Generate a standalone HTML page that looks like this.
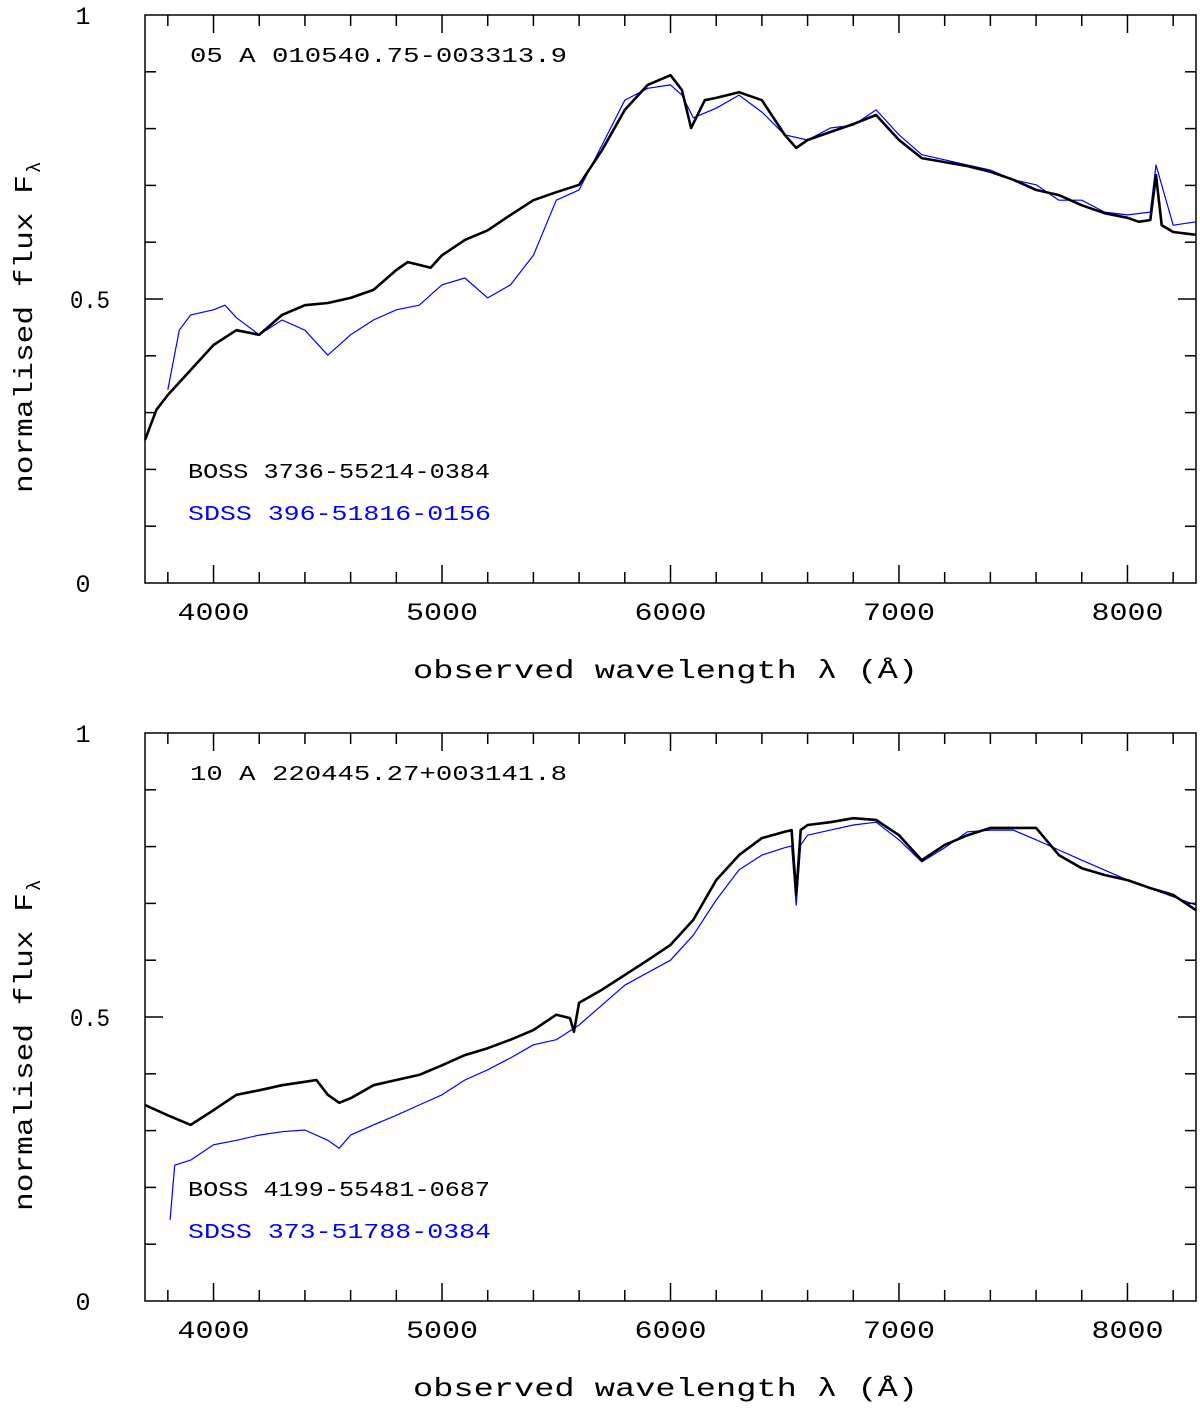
<!DOCTYPE html>
<html><head><meta charset="utf-8"><style>
html,body{margin:0;padding:0;background:#fff}
svg text{font-family:"Liberation Mono","DejaVu Sans Mono",monospace}
</style></head><body>
<svg id="chart" width="1200" height="1405" viewBox="0 0 1200 1405" xmlns="http://www.w3.org/2000/svg"></svg>
<script>
const topBossWl=[3700,3750,3800,3900,4000,4100,4200,4300,4400,4500,4600,4700,4800,4850,4900,4950,5000,5100,5200,5300,5400,5500,5600,5700,5800,5900,6000,6050,6090,6150,6200,6300,6400,6500,6550,6600,6700,6800,6900,7000,7100,7200,7300,7400,7500,7600,7700,7800,7900,8000,8050,8100,8125,8150,8200,8300];
const topBossFlux=[.252,.305,.331,.375,.419,.445,.437,.472,.489,.493,.502,.516,.551,.565,.560,.555,.577,.604,.621,.648,.674,.688,.701,.762,.833,.877,.894,.868,.801,.850,.854,.864,.850,.789,.766,.780,.794,.808,.824,.780,.748,.741,.734,.724,.710,.692,.683,.665,.651,.643,.636,.639,.718,.630,.618,.613];
const topSdssWl=[3800,3850,3900,4000,4050,4100,4200,4300,4400,4500,4600,4700,4800,4900,5000,5100,5200,5300,5400,5500,5600,5700,5800,5900,6000,6050,6100,6200,6300,6400,6500,6600,6700,6800,6900,7000,7100,7200,7300,7400,7500,7600,7700,7800,7900,8000,8100,8125,8200,8300];
const topSdssFlux=[.340,.445,.472,.481,.489,.467,.437,.463,.445,.401,.437,.463,.481,.489,.525,.537,.502,.525,.577,.674,.692,.771,.850,.871,.877,.859,.819,.836,.859,.829,.789,.780,.801,.806,.833,.789,.754,.745,.736,.727,.710,.701,.674,.674,.653,.648,.653,.736,.630,.636];
const botBossWl=[3700,3800,3900,4000,4100,4200,4300,4400,4450,4500,4550,4600,4700,4800,4900,5000,5100,5200,5300,5400,5500,5560,5577,5600,5700,5800,5900,6000,6100,6200,6300,6400,6500,6530,6550,6570,6600,6700,6800,6900,7000,7100,7200,7300,7400,7500,7600,7700,7800,7900,8000,8100,8200,8300];
const botBossFlux=[.345,.327,.310,.336,.363,.371,.380,.386,.389,.363,.349,.357,.380,.389,.398,.415,.433,.445,.460,.477,.504,.498,.474,.525,.548,.574,.600,.627,.671,.741,.785,.815,.826,.829,.715,.829,.838,.843,.850,.847,.820,.776,.803,.820,.833,.833,.833,.785,.762,.750,.741,.727,.715,.688];
const botSdssWl=[3810,3830,3900,4000,4100,4200,4300,4400,4500,4550,4600,4700,4800,4900,5000,5100,5200,5300,5400,5500,5600,5700,5800,6000,6100,6200,6300,6400,6500,6530,6550,6570,6600,6700,6800,6900,7000,7100,7200,7300,7400,7500,7600,7700,7800,8000,8300];
const botSdssFlux=[.143,.239,.248,.275,.283,.292,.298,.301,.283,.269,.292,.310,.327,.345,.363,.389,.407,.428,.451,.460,.486,.521,.556,.600,.644,.706,.759,.785,.798,.801,.697,.803,.820,.829,.838,.843,.812,.773,.798,.826,.829,.829,.812,.794,.776,.741,.697];
const xTickLabels=["4000","5000","6000","7000","8000"];
const yTickLabels=["0","0.5","1"];

const NS="http://www.w3.org/2000/svg";
const svg=document.getElementById('chart');
const X0=145,X1=1196,WMIN=3700,WMAX=8300;
function xs(w){return X0+(w-WMIN)/(WMAX-WMIN)*(X1-X0);}
function mk(tag,attrs,parent){const e=document.createElementNS(NS,tag);for(const k in attrs)e.setAttribute(k,attrs[k]);(parent||svg).appendChild(e);return e;}
function txt(s,x,y,size,len,parent,color,anchor){const t=mk('text',{x:x,y:y,'font-size':size,fill:color||'#000','text-anchor':anchor||'start'},parent);if(len){t.setAttribute('textLength',len);t.setAttribute('lengthAdjust','spacingAndGlyphs');}t.textContent=s;return t;}

function panel(name,top,title,bossLbl,sdssLbl,bWl,bF,sWl,sF,legY){
  const bot=top+568;
  const ys=f=>bot-f*(bot-top);
  const g=mk('g',{});
  
  
  // series
  const sd=sWl.map((w,i)=>xs(w).toFixed(1)+','+ys(sF[i]).toFixed(1)).join(' ');
  const sl=mk('polyline',{points:sd,fill:'none',stroke:'#0000ff','stroke-width':1.2,'stroke-linejoin':'round'},g);
  
  
  const bd=bWl.map((w,i)=>xs(w).toFixed(1)+','+ys(bF[i]).toFixed(1)).join(' ');
  const bl=mk('polyline',{points:bd,fill:'none',stroke:'#000','stroke-width':2.6,'stroke-linejoin':'round'},g);
  
  
  // frame
  const fr=mk('rect',{x:X0,y:top,width:X1-X0,height:bot-top,fill:'none',stroke:'#000','stroke-width':1.5},g);
  
  
  // x ticks
  for(let w=3800;w<=8200;w+=200){
    const x=xs(w);const L=(w%1000===0)?18:11;
    mk('line',{x1:x,y1:bot,x2:x,y2:bot-L,stroke:'#000','stroke-width':1.5},g);
    mk('line',{x1:x,y1:top,x2:x,y2:top+L,stroke:'#000','stroke-width':1.5},g);
  }
  xTickLabels.forEach(s=>{const t=txt(s,xs(+s),bot+37,25,72,g,'#000','middle');});
  // y ticks
  for(let k=1;k<10;k++){
    const y=ys(k/10);const L=(k===5)?18:11;
    mk('line',{x1:X0,y1:y,x2:X0+L,y2:y,stroke:'#000','stroke-width':1.5},g);
    mk('line',{x1:X1,y1:y,x2:X1-L,y2:y,stroke:'#000','stroke-width':1.5},g);
  }
  yTickLabels.forEach(s=>{const v=parseFloat(s);const t=txt(s,s.length>1?90:83,ys(v)+9,25,s.length>1?40:null,g,'#000','middle');});
  // titles
  const tt=txt(title,190,top+47,21,377,g);
  
  
  const l1=txt(bossLbl,188,legY,21,302,g);
  
  
  const l2=txt(sdssLbl,188,legY+42,21,303,g,'#0000ff');
  
  
  const xt=txt('observed wavelength  λ (Å)',413,bot+95,26,505,g);
  
  
  const yg=mk('g',{transform:'translate(32,'+(top+478)+') rotate(-90)'},g);
  const yt=txt('normalised flux F',0,0,26,318,yg);
  
  
  const sub=txt('λ',320,8,19,null,yg);
  
  
}
panel('top-panel',15,'05  A  010540.75-003313.9','BOSS 3736-55214-0384','SDSS  396-51816-0156',topBossWl,topBossFlux,topSdssWl,topSdssFlux,478);
panel('bottom-panel',733,'10  A  220445.27+003141.8','BOSS 4199-55481-0687','SDSS  373-51788-0384',botBossWl,botBossFlux,botSdssWl,botSdssFlux,1196);
</script>
</body></html>
